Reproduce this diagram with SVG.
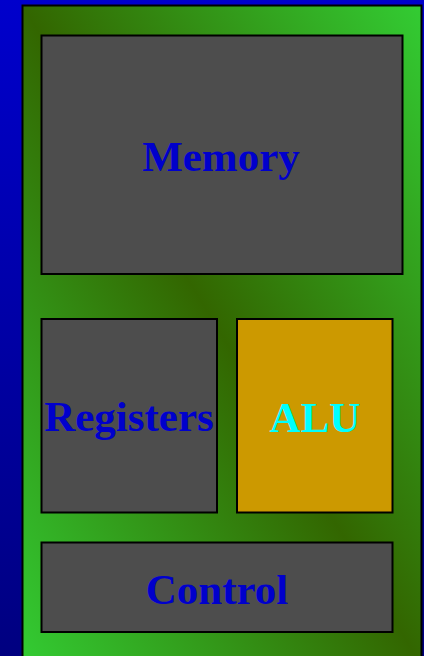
<svg xmlns="http://www.w3.org/2000/svg" width="424" height="656" viewBox="0 0 424 656">
  <defs>
    <linearGradient id="bg" x1="0" y1="0" x2="0" y2="1">
      <stop offset="0" stop-color="#0000CC"/>
      <stop offset="1" stop-color="#000080"/>
    </linearGradient>
    <linearGradient id="board" x1="1" y1="0" x2="0" y2="1">
      <stop offset="0" stop-color="#33CC33"/>
      <stop offset="0.5" stop-color="#336600"/>
      <stop offset="1" stop-color="#33CC33"/>
    </linearGradient>
  </defs>
  <style>
    .box { fill: #4D4D4D; stroke: #000000; stroke-width: 2; }
    .alu { fill: #CC9900; stroke: #000000; stroke-width: 2; }
    .lbl { font-family: "Liberation Serif", "Times New Roman", serif; font-weight: bold; font-size: 43px; text-anchor: middle; fill: #0000CC; }
    .lbl-alu { fill: #00FFFF; }
  </style>
  <rect x="0" y="0" width="424" height="656" fill="url(#bg)"/>
  <g id="board-group">
    <rect x="22.5" y="5.5" width="399" height="660" fill="url(#board)" stroke="#000000" stroke-width="2"/>
  </g>
  <g id="memory">
    <rect class="box" x="41.5" y="35.5" width="361" height="238.5"/>
    <text class="lbl" x="221" y="171">Memory</text>
  </g>
  <g id="registers">
    <rect class="box" x="41.5" y="319" width="175.5" height="193.5"/>
    <text class="lbl" x="129" y="431">Registers</text>
  </g>
  <g id="alu">
    <rect class="alu" x="237" y="319" width="155.5" height="193.5"/>
    <text class="lbl lbl-alu" x="315" y="431.5">ALU</text>
  </g>
  <g id="control">
    <rect class="box" x="41.5" y="542.5" width="351" height="89.5"/>
    <text class="lbl" x="217" y="603.5">Control</text>
  </g>
  <g id="connectors"></g>
</svg>
